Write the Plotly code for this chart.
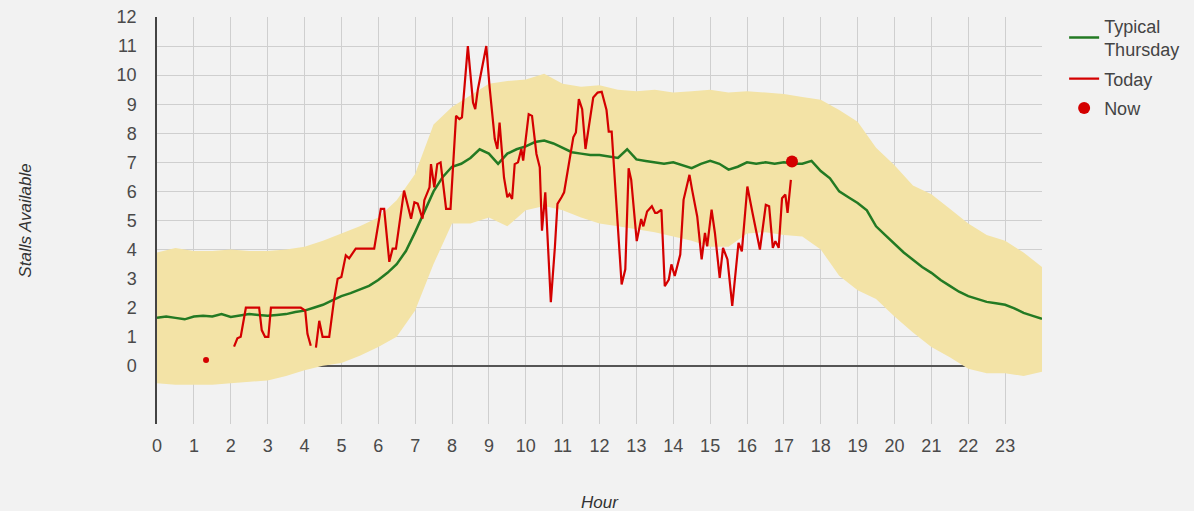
import plotly.graph_objects as go

# Typical Thursday (quarter-hour)
typ_hours = [i * 0.25 for i in range(97)]
typ_vals = [1.65, 1.7, 1.65, 1.6, 1.7, 1.72, 1.7, 1.78, 1.68, 1.72, 1.78, 1.75, 1.72, 1.75, 1.78, 1.85,
            1.9, 2.0, 2.1, 2.25, 2.4, 2.5, 2.62, 2.75, 2.95, 3.2, 3.5, 3.95, 4.6, 5.3, 6.0, 6.5,
            6.85, 6.95, 7.15, 7.45, 7.3, 6.95, 7.3, 7.45, 7.55, 7.7, 7.75, 7.65, 7.5, 7.35, 7.3, 7.25,
            7.25, 7.2, 7.15, 7.45, 7.1, 7.05, 7.0, 6.95, 7.0, 6.9, 6.8, 6.95, 7.05, 6.95, 6.75, 6.85,
            7.0, 6.95, 7.0, 6.95, 7.0, 6.95, 6.95, 7.05, 6.7, 6.45, 6.0, 5.8, 5.6, 5.35, 4.8, 4.5,
            4.2, 3.9, 3.65, 3.4, 3.2, 2.95, 2.75, 2.55, 2.4, 2.3, 2.2, 2.15, 2.1, 1.98, 1.82, 1.72, 1.62]

# Band (half-hour)
band_hours = [i * 0.5 for i in range(49)]
band_upper = [3.9, 4.05, 3.95, 3.95, 4.0, 3.95, 3.95, 4.0, 4.1, 4.3, 4.55, 4.8, 5.1, 5.7, 6.6, 8.3,
              8.9, 9.3, 9.7, 9.8, 9.85, 10.05, 9.7, 9.6, 9.65, 9.5, 9.45, 9.5, 9.4, 9.45, 9.5, 9.4,
              9.45, 9.4, 9.35, 9.25, 9.15, 8.8, 8.4, 7.5, 6.9, 6.2, 5.9, 5.4, 4.9, 4.5, 4.3, 3.9, 3.4]
band_lower = [-0.6, -0.65, -0.65, -0.65, -0.6, -0.55, -0.5, -0.35, -0.15, 0.0, 0.1, 0.35, 0.65, 1.0, 1.9, 3.5,
              4.9, 4.9, 5.1, 4.8, 5.35, 5.5, 5.35, 5.1, 4.9, 4.8, 4.7, 4.6, 4.45, 4.3, 4.1, 4.1,
              4.55, 4.6, 4.5, 4.45, 4.0, 3.1, 2.6, 2.3, 1.7, 1.15, 0.65, 0.3, -0.1, -0.25, -0.25, -0.35, -0.2]

# Today (segment 1)
today1_hours = [2.09, 2.18, 2.27, 2.41, 2.77, 2.84, 2.93, 3.02, 3.09, 3.9, 4.02, 4.08, 4.17]
today1_vals = [0.66, 0.95, 1.0, 2.0, 2.0, 1.23, 1.0, 1.0, 2.0, 2.0, 1.9, 1.1, 0.69]

# Today (segment 2)
today2_hours = [4.31, 4.4, 4.49, 4.67, 4.8, 4.9, 5.0, 5.12, 5.21, 5.39, 5.89, 6.07, 6.16, 6.3, 6.39, 6.48,
                6.7, 6.89, 6.98, 7.07, 7.2, 7.25, 7.39, 7.43, 7.52, 7.6, 7.69, 7.84, 7.96,
                8.11, 8.2, 8.27, 8.43, 8.57, 8.63, 8.7, 8.93, 9.02, 9.16, 9.23, 9.29, 9.41, 9.5, 9.56,
                9.63, 9.7, 9.79, 9.88, 9.93, 10.08, 10.17, 10.29, 10.38, 10.44, 10.53, 10.68, 10.79,
                10.86, 10.97, 11.04, 11.29, 11.36, 11.44, 11.53, 11.62, 11.83, 11.95, 12.06, 12.19,
                12.25, 12.33, 12.6, 12.7, 12.79, 12.86, 13.01, 13.13, 13.19, 13.29, 13.42, 13.51,
                13.56, 13.68, 13.77, 13.88, 13.95, 14.04, 14.19, 14.28, 14.44, 14.51, 14.65, 14.77,
                14.86, 14.92, 15.04, 15.13, 15.26, 15.35, 15.47, 15.6, 15.77, 15.86, 16.01, 16.15,
                16.35, 16.51, 16.6, 16.7, 16.77, 16.86, 16.95, 17.04, 17.1, 17.19]
today2_vals = [0.63, 1.55, 1.0, 1.0, 2.26, 3.0, 3.06, 3.8, 3.7, 4.03, 4.03, 5.4, 5.4, 3.58, 4.03, 4.03,
               6.03, 5.06, 5.63, 5.58, 5.06, 5.7, 6.14, 6.94, 6.14, 6.94, 7.0, 5.4, 5.4,
               8.6, 8.49, 8.55, 11.0, 9.06, 8.83, 9.5, 11.0, 9.58, 7.8, 7.46, 8.37, 6.48, 5.8, 5.91,
               5.74, 6.94, 7.0, 7.46, 7.06, 8.66, 8.6, 7.29, 6.83, 4.65, 5.97, 2.19, 4.08,
               5.57, 5.8, 5.97, 7.86, 8.03, 9.18, 8.83, 7.46, 9.23, 9.4, 9.43, 8.8,
               8.06, 8.06, 2.8, 3.32, 6.8, 6.4, 4.29, 5.05, 4.8, 5.31, 5.49, 5.26,
               5.26, 5.37, 2.74, 2.97, 3.49, 3.09, 3.83, 5.71, 6.57, 6.06, 5.14, 3.66,
               4.57, 4.11, 5.37, 4.57, 3.03, 4.06, 3.66, 2.06, 4.23, 3.94, 6.17, 5.26,
               4.0, 5.54, 5.49, 4.06, 4.29, 4.06, 5.77, 5.89, 5.26, 6.4]

now_hour = [17.22]
now_val = [7.03]
stray_hour = [1.33]
stray_val = [0.2]

x_ticks = list(range(24))
y_ticks = list(range(13))

GREEN = "#237a23"
RED = "#d40000"
BAND = "#f3e3a6"
FONT = "Liberation Sans, Arial, sans-serif"

fig = go.Figure()
fig.add_trace(go.Scatter(x=band_hours, y=band_upper, mode="lines", line=dict(width=0),
                         showlegend=False, hoverinfo="skip"))
fig.add_trace(go.Scatter(x=band_hours, y=band_lower, mode="lines", line=dict(width=0),
                         fill="tonexty", fillcolor=BAND, showlegend=False, hoverinfo="skip"))
fig.add_trace(go.Scatter(x=typ_hours, y=typ_vals, mode="lines", name="Typical<br>Thursday",
                         line=dict(color=GREEN, width=2.5)))
fig.add_trace(go.Scatter(x=today1_hours, y=today1_vals, mode="lines", name="Today",
                         line=dict(color=RED, width=2.2), legendgroup="today"))
fig.add_trace(go.Scatter(x=today2_hours, y=today2_vals, mode="lines", name="Today",
                         line=dict(color=RED, width=2.2), legendgroup="today", showlegend=False))
fig.add_trace(go.Scatter(x=now_hour, y=now_val, mode="markers", name="Now",
                         marker=dict(color=RED, size=12)))
fig.add_trace(go.Scatter(x=stray_hour, y=stray_val, mode="markers", showlegend=False,
                         marker=dict(color=RED, size=6)))

fig.update_layout(
    width=1194, height=511,
    margin=dict(l=157, r=152, t=17, b=87, autoexpand=False),
    paper_bgcolor="#f2f2f2", plot_bgcolor="#f2f2f2",
    font=dict(family=FONT, color="#4a4a4a", size=18),
    legend=dict(x=1.025, y=0.985, xref="paper", yref="container", xanchor="left", yanchor="top",
                bgcolor="rgba(0,0,0,0)", font=dict(size=18, color="#444"), tracegroupgap=3),
    showlegend=True,
    annotations=[
        dict(text="<i>Stalls Available</i>", x=-0.149, y=0.5, xref="paper", yref="paper",
             textangle=-90, showarrow=False, font=dict(size=17, color="#333", family=FONT),
             xanchor="center", yanchor="middle"),
        dict(text="<i>Hour</i>", x=0.5, y=-0.194, xref="paper", yref="paper", showarrow=False,
             font=dict(size=17, color="#333", family=FONT), xanchor="center", yanchor="middle"),
    ],
)

fig.update_xaxes(range=[0, 24], tickvals=x_ticks, showgrid=True, gridcolor="#cfcfcf", gridwidth=1,
                 zeroline=False, showline=False, ticklabelstandoff=9, fixedrange=True)
fig.update_yaxes(range=[-2, 12], tickvals=y_ticks, showgrid=True, gridcolor="#cfcfcf", gridwidth=1,
                 zeroline=True, zerolinecolor="#555", zerolinewidth=1.5,
                 showline=True, linecolor="#444", linewidth=1.5, ticklabelstandoff=15, fixedrange=True)

fig.write_html("out.html", config={"displayModeBar": False},
               post_script="document.body.style.margin='0';document.body.style.background='#f2f2f2';")
